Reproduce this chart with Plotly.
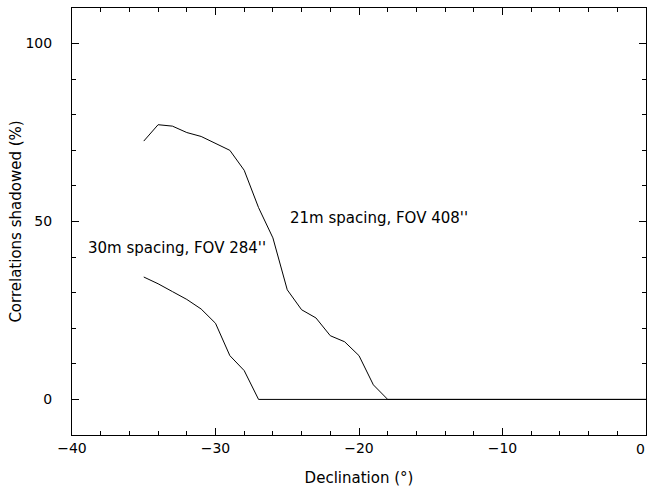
import plotly.graph_objects as go

dec_21 = [-35, -34, -33, -32, -31, -30, -29, -28, -27, -26, -25, -24, -23, -22, -21, -20, -19, -18,
          -17, -16, -15, -14, -13, -12, -11, -10, -9, -8, -7, -6, -5, -4, -3, -2, -1, 0]
val_21 = [72.6, 77.2, 76.8, 75.0, 73.9, 71.9, 70.0, 64.4, 53.9, 45.4, 30.8, 25.2, 22.9, 17.9, 16.2, 12.3, 4.1, 0,
          0, 0, 0, 0, 0, 0, 0, 0, 0, 0, 0, 0, 0, 0, 0, 0, 0, 0]

dec_30 = [-35, -34, -33, -32, -31, -30, -29, -28, -27, -26, -25, -24, -23, -22, -21, -20, -19, -18,
          -17, -16, -15, -14, -13, -12, -11, -10, -9, -8, -7, -6, -5, -4, -3, -2, -1, 0]
val_30 = [34.4, 32.5, 30.3, 28.1, 25.4, 21.4, 12.3, 8.1, 0, 0, 0, 0, 0, 0, 0, 0, 0, 0,
          0, 0, 0, 0, 0, 0, 0, 0, 0, 0, 0, 0, 0, 0, 0, 0, 0, 0]

x_tickvals = [-40, -30, -20, -10]
x_ticktext = ["\u221240", "\u221230", "\u221220", "\u221210"]
x_edge_tick = 0
x_edge_text = "0"
y_tickvals = [0, 50, 100]
y_minorvals = [-10, 10, 20, 30, 40, 60, 70, 80, 90, 110]

label_21 = "21m spacing, FOV 408''"
label_30 = "30m spacing, FOV 284''"
x_title = "Declination (°)"
y_title = "Correlations shadowed (%)"

FONT = "DejaVu Sans, Liberation Sans, sans-serif"

fig = go.Figure()
fig.add_trace(go.Scatter(x=dec_21, y=val_21, mode="lines", line=dict(color="black", width=1), showlegend=False))
fig.add_trace(go.Scatter(x=dec_30, y=val_30, mode="lines", line=dict(color="black", width=1), showlegend=False))

fig.add_annotation(x=-24.95, y=50.9, text=label_21, showarrow=False, xanchor="left", yanchor="middle",
                   font=dict(family=FONT, size=15, color="black"))
fig.add_annotation(x=-39.0, y=42.6, text=label_30, showarrow=False, xanchor="left", yanchor="middle",
                   font=dict(family=FONT, size=15, color="black"))
# right-edge tick label, kept fully inside the page
fig.add_annotation(x=x_edge_tick, xref="x", y=0, yref="paper", text=x_edge_text, showarrow=False,
                   xanchor="right", yanchor="top", yshift=-4, xshift=1,
                   font=dict(family=FONT, size=14, color="black"))

fig.update_xaxes(range=[-40, 0], tickvals=x_tickvals, ticktext=x_ticktext,
                 showline=True, linecolor="black", linewidth=1, mirror="allticks",
                 ticks="inside", ticklen=7, tickwidth=1, tickcolor="black",
                 showgrid=False, zeroline=False, automargin=False,
                 tickfont=dict(family=FONT, size=14, color="black"),
                 minor=dict(ticks="inside", dtick=2, ticklen=4, tickwidth=1, tickcolor="black", showgrid=False),
                 title=dict(text=x_title, font=dict(family=FONT, size=15, color="black"), standoff=18))
fig.update_yaxes(range=[-10, 110], tickvals=y_tickvals, ticklabelstandoff=16,
                 showline=True, linecolor="black", linewidth=1, mirror="allticks",
                 ticks="inside", ticklen=7, tickwidth=1, tickcolor="black",
                 showgrid=False, zeroline=False, automargin=False,
                 tickfont=dict(family=FONT, size=14, color="black"),
                 minor=dict(ticks="inside", tickvals=y_minorvals, ticklen=4,
                            tickwidth=1, tickcolor="black", showgrid=False),
                 title=dict(text=y_title, font=dict(family=FONT, size=15, color="black"), standoff=0))

fig.update_layout(width=647, height=487, margin=dict(l=72, r=1, t=8, b=52),
                  plot_bgcolor="white", paper_bgcolor="white", font=dict(family=FONT))

post = ("document.body.style.margin='0';document.body.style.overflow='hidden';"
        "var gd=document.getElementById('{plot_id}');"
        "Plotly.relayout(gd,{width:647,height:487});")
fig.write_html("out.html", post_script=post, config={"displayModeBar": False})
